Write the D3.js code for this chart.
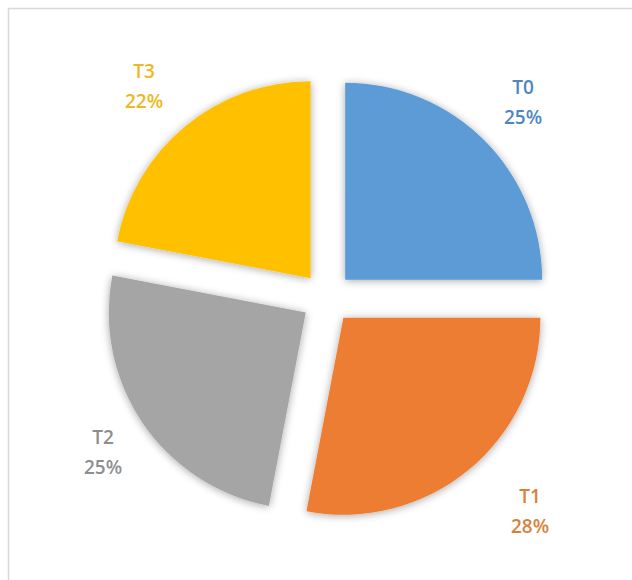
<!DOCTYPE html>
<html>
<head>
<meta charset="utf-8">
<script src="https://cdn.jsdelivr.net/npm/d3@7"></script>
<style>
  html, body { margin: 0; padding: 0; background: #fff; }
  svg { display: block; }
</style>
</head>
<body>
<svg id="chart" width="632" height="580"></svg>
<script>
// Pie data
const categories = ["T0", "T1", "T2", "T3"];
const values = [25, 28, 25, 22];
const sliceColors = ["#5B9BD5", "#ED7D31", "#A5A5A5", "#FFC000"];
const labelColors = ["#4f86c0", "#d9803a", "#8e8e8e", "#ecb820"];

const width = 632, height = 580;
const cx = 327, cy = 298;
const radius = 197;
const explode = 25.7;

const svg = d3.select("#chart");

// Chart area frame
svg.append("rect")
  .attr("x", 8.5).attr("y", 8.5)
  .attr("width", 640).attr("height", 600)
  .attr("fill", "#fff")
  .attr("stroke", "#d9d9d9")
  .attr("stroke-width", 1.5);

// Soft shadow under slices
const defs = svg.append("defs");
const filt = defs.append("filter").attr("id", "soft")
  .attr("x", "-20%").attr("y", "-20%").attr("width", "140%").attr("height", "140%");
filt.append("feGaussianBlur").attr("in", "SourceAlpha").attr("stdDeviation", 4).attr("result", "b");
filt.append("feOffset").attr("in", "b").attr("dx", 0).attr("dy", 1).attr("result", "o");
filt.append("feComponentTransfer").attr("in", "o").attr("result", "s")
  .append("feFuncA").attr("type", "linear").attr("slope", 0.35);
const merge = filt.append("feMerge");
merge.append("feMergeNode").attr("in", "s");
merge.append("feMergeNode").attr("in", "SourceGraphic");

const data = categories.map((c, i) => ({ name: c, value: values[i], color: sliceColors[i], label: labelColors[i] }));

const pie = d3.pie().value(d => d.value).sort(null);
const arc = d3.arc().innerRadius(0).outerRadius(radius);
const arcs = pie(data);

const g = svg.append("g").attr("transform", `translate(${cx},${cy})`);

g.selectAll("path.slice")
  .data(arcs)
  .join("path")
  .attr("class", "slice")
  .attr("fill", d => d.data.color)
  .attr("filter", "url(#soft)")
  .attr("transform", d => {
    const mid = (d.startAngle + d.endAngle) / 2;
    return `translate(${explode * Math.sin(mid)},${-explode * Math.cos(mid)})`;
  })
  .attr("d", arc);

// Category + percentage labels outside the slices
const labelPos = {
  T0: [196, -204],
  T1: [203, 205],
  T2: [-224, 146],
  T3: [-183, -220]
};
const total = d3.sum(values);

const labels = g.selectAll("text.lbl")
  .data(arcs)
  .join("text")
  .attr("class", "lbl")
  .attr("text-anchor", "middle")
  .attr("font-family", "'Open Sans', 'Noto Sans', sans-serif")
  .attr("font-weight", 600)
  .attr("font-size", 19)
  .attr("fill", d => d.data.label)
  .attr("transform", d => `translate(${labelPos[d.data.name][0]},${labelPos[d.data.name][1]})`);

labels.append("tspan").attr("x", 0).attr("dy", 0).text(d => d.data.name);
labels.append("tspan").attr("x", 0).attr("dy", 30)
  .text(d => Math.round(d.data.value / total * 100) + "%");
</script>
</body>
</html>
